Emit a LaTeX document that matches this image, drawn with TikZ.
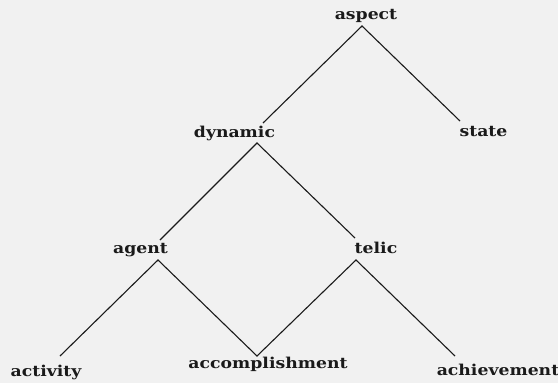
\documentclass[tikz,border=0pt]{standalone}
\usepackage{fontspec}
\setmainfont{DejaVu Serif}
\newfontfamily\termfont[FakeStretch=1.15]{DejaVu Serif}
\usepackage{tikz}
\definecolor{paper}{HTML}{F1F1F1}
\definecolor{ink}{HTML}{1A1A1A}
\tikzset{
  term/.style={anchor=base,inner sep=0pt,text=ink,
    font=\termfont\fontsize{15}{18}\selectfont\bfseries},
  branch/.style={line width=1.1pt,draw=ink}
}
\begin{document}
\begin{tikzpicture}[x=1pt,y=-1pt]
  \fill[paper] (0,0) rectangle (558,383);
  \useasboundingbox (0,0) rectangle (558,383);
  % labels
  \node[term] (aspect) at (366,19) {aspect};
  \node[term] (state) at (483.5,136) {state};
  \node[term] (dynamic) at (234.5,137) {dynamic};
  \node[term] (agent) at (140.5,253) {agent};
  \node[term] (telic) at (376,253) {telic};
  \node[term] (activity) at (46,376) {activity};
  \node[term] (accomp) at (268,368) {accomplishment};
  \node[term] (achieve) at (498,375) {achievement};
  % branch ends
  \coordinate (aspect-b) at (362,26);
  \coordinate (state-t) at (460,121);
  \coordinate (dynamic-t) at (263,123);
  \coordinate (dynamic-b) at (257,143);
  \coordinate (agent-t) at (160,240);
  \coordinate (agent-b) at (158,260);
  \coordinate (telic-t) at (355,238);
  \coordinate (telic-b) at (356,260);
  \coordinate (activity-t) at (60,356);
  \coordinate (accomp-t) at (257,356);
  \coordinate (achieve-t) at (455,356);
  % branches
  \draw[branch] (dynamic-t) -- (aspect-b) -- (state-t);
  \draw[branch] (agent-t) -- (dynamic-b) -- (telic-t);
  \draw[branch] (activity-t) -- (agent-b) -- (accomp-t) -- (telic-b) -- (achieve-t);
\end{tikzpicture}
\end{document}
